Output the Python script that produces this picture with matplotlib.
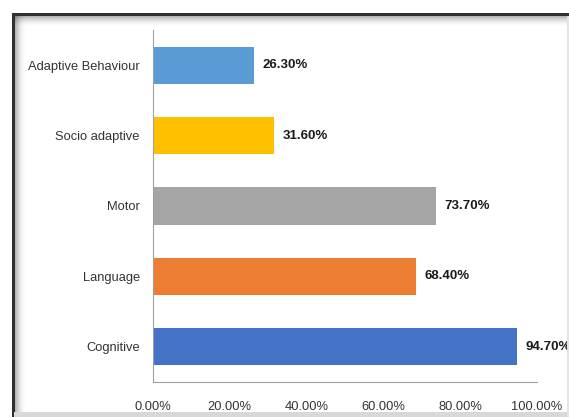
import matplotlib.pyplot as plt
from matplotlib.patches import Rectangle
from matplotlib.ticker import FuncFormatter

# domains, bottom to top
domains = ["Cognitive", "Language", "Motor", "Socio adaptive", "Adaptive Behaviour"]
percent = [94.70, 68.40, 73.70, 31.60, 26.30]
bar_colors = ["#4472C4", "#ED7D31", "#A5A5A5", "#FFC000", "#5B9BD5"]
xticks = [0, 20, 40, 60, 80, 100]

plt.rcParams['font.family'] = ['Liberation Sans', 'DejaVu Sans']

W, H = 569, 417
fig = plt.figure(figsize=(W / 100, H / 100), dpi=100)
fig.patch.set_facecolor("white")

# dark frame on top and left with a soft shadow falling inward
for i in range(12):
    a = 0.35 * (1 - i / 12) ** 2
    fig.patches.append(Rectangle(((14 + i) / W, 0), 1 / W, 1 - 15 / H,
                                 transform=fig.transFigure, color="black",
                                 alpha=a, lw=0))
    fig.patches.append(Rectangle((14 / W, 1 - (16 + i) / H), 1, 1 / H,
                                 transform=fig.transFigure, color="black",
                                 alpha=a, lw=0))
fig.patches.append(Rectangle((12 / W, 0), 3 / W, 1 - 13 / H,
                             transform=fig.transFigure, color="#303030", lw=0))
fig.patches.append(Rectangle((12 / W, 1 - 16 / H), 1, 3 / H,
                             transform=fig.transFigure, color="#303030", lw=0))
# light edge at the bottom and right
fig.patches.append(Rectangle((14 / W, 0), 1, 5 / H,
                             transform=fig.transFigure, color="#d8d8d8", lw=0))
fig.patches.append(Rectangle((1 - 2 / W, 0), 2 / W, 1 - 16 / H,
                             transform=fig.transFigure, color="#e4e4e4", lw=0))

ax = fig.add_axes([153 / W, 1 - 382 / H, (537 - 153) / W, (382 - 30) / H])
ypos = range(len(domains))
ax.barh(ypos, percent, height=0.53, color=bar_colors)

for y, v in zip(ypos, percent):
    ax.text(v + 2.2, y, f"{v:.2f}%", va="center", ha="left",
            fontsize=9.5, fontweight="bold", color="#1a1a1a")

ax.set_xlim(0, 100)
ax.set_ylim(-0.5, len(domains) - 0.5)
ax.set_yticks(list(ypos))
ax.set_yticklabels(domains, fontsize=9.3, color="#333333")
ax.set_xticks(xticks)
ax.xaxis.set_major_formatter(FuncFormatter(lambda v, p: f"{v:.2f}%"))
ax.tick_params(axis="x", labelsize=9.3, colors="#333333", length=0, pad=14)
ax.tick_params(axis="y", length=0, pad=9.5)

for s in ["top", "right"]:
    ax.spines[s].set_visible(False)
ax.spines["left"].set_color("#a0a0a0")
ax.spines["bottom"].set_color("#a0a0a0")
ax.set_facecolor("none")

fig.savefig("out.png", dpi=100)
